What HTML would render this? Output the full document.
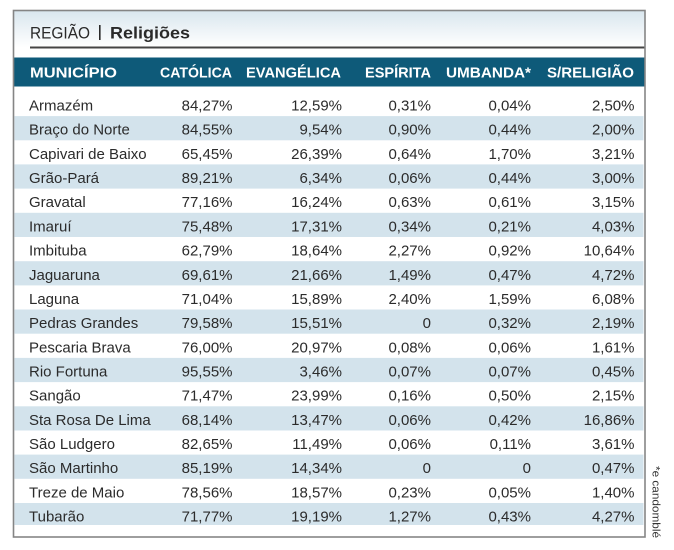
<!DOCTYPE html>
<html><head><meta charset="utf-8"><style>
html,body{margin:0;padding:0;background:#fff;}
svg{display:block;}
text{font-family:"Liberation Sans",Arial,sans-serif;}
</style></head><body>
<svg width="674" height="550" viewBox="0 0 674 550" xmlns="http://www.w3.org/2000/svg">
<defs>
<linearGradient id="tg" x1="0" y1="0" x2="0" y2="1">
<stop offset="0" stop-color="#d9e6ee"/>
<stop offset="1" stop-color="#ffffff"/>
</linearGradient>
</defs>
<rect x="0" y="0" width="674" height="550" fill="#fff"/>
<rect x="13.5" y="10.5" width="631" height="37" fill="url(#tg)"/>
<line x1="30" y1="47.5" x2="645" y2="47.5" stroke="#444" stroke-width="2"/>
<text x="30" y="38.5" font-size="17" fill="#2a2a2a" textLength="60" lengthAdjust="spacingAndGlyphs">REGIÃO</text>
<rect x="99" y="25" width="1.6" height="15" fill="#2a2a2a"/>
<text x="110" y="38.5" font-size="17" font-weight="bold" fill="#2a2a2a" textLength="80" lengthAdjust="spacingAndGlyphs">Religiões</text>
<rect x="13.5" y="57.5" width="631" height="29" fill="#0e5a79"/>
<g font-size="15" font-weight="bold" fill="#fff">
<text x="30" y="77.5" textLength="87" lengthAdjust="spacingAndGlyphs">MUNICÍPIO</text>
<text x="160" y="77.5" textLength="72" lengthAdjust="spacingAndGlyphs">CATÓLICA</text>
<text x="246" y="77.5" textLength="95" lengthAdjust="spacingAndGlyphs">EVANGÉLICA</text>
<text x="365" y="77.5" textLength="66" lengthAdjust="spacingAndGlyphs">ESPÍRITA</text>
<text x="446" y="77.5" textLength="85" lengthAdjust="spacingAndGlyphs">UMBANDA*</text>
<text x="547" y="77.5" textLength="87" lengthAdjust="spacingAndGlyphs">S/RELIGIÃO</text>
</g>
<g fill="#d3e3ec">
<rect x="14.5" y="116.1" width="629" height="24.2"/>
<rect x="14.5" y="164.4" width="629" height="24.2"/>
<rect x="14.5" y="212.8" width="629" height="24.2"/>
<rect x="14.5" y="261.2" width="629" height="24.2"/>
<rect x="14.5" y="309.5" width="629" height="24.2"/>
<rect x="14.5" y="357.9" width="629" height="24.2"/>
<rect x="14.5" y="406.3" width="629" height="24.2"/>
<rect x="14.5" y="454.6" width="629" height="24.2"/>
<rect x="14.5" y="503.0" width="629" height="22"/>
</g>
<g font-size="15" fill="#2b2b2b">
<g><text x="29" y="110.5">Armazém</text><g text-anchor="end"><text x="232.5" y="110.5">84,27%</text><text x="342" y="110.5">12,59%</text><text x="431" y="110.5">0,31%</text><text x="531" y="110.5">0,04%</text><text x="634.5" y="110.5">2,50%</text></g></g>
<g><text x="29" y="134.7">Braço do Norte</text><g text-anchor="end"><text x="232.5" y="134.7">84,55%</text><text x="342" y="134.7">9,54%</text><text x="431" y="134.7">0,90%</text><text x="531" y="134.7">0,44%</text><text x="634.5" y="134.7">2,00%</text></g></g>
<g><text x="29" y="158.9">Capivari de Baixo</text><g text-anchor="end"><text x="232.5" y="158.9">65,45%</text><text x="342" y="158.9">26,39%</text><text x="431" y="158.9">0,64%</text><text x="531" y="158.9">1,70%</text><text x="634.5" y="158.9">3,21%</text></g></g>
<g><text x="29" y="183.0">Grão-Pará</text><g text-anchor="end"><text x="232.5" y="183.0">89,21%</text><text x="342" y="183.0">6,34%</text><text x="431" y="183.0">0,06%</text><text x="531" y="183.0">0,44%</text><text x="634.5" y="183.0">3,00%</text></g></g>
<g><text x="29" y="207.2">Gravatal</text><g text-anchor="end"><text x="232.5" y="207.2">77,16%</text><text x="342" y="207.2">16,24%</text><text x="431" y="207.2">0,63%</text><text x="531" y="207.2">0,61%</text><text x="634.5" y="207.2">3,15%</text></g></g>
<g><text x="29" y="231.4">Imaruí</text><g text-anchor="end"><text x="232.5" y="231.4">75,48%</text><text x="342" y="231.4">17,31%</text><text x="431" y="231.4">0,34%</text><text x="531" y="231.4">0,21%</text><text x="634.5" y="231.4">4,03%</text></g></g>
<g><text x="29" y="255.6">Imbituba</text><g text-anchor="end"><text x="232.5" y="255.6">62,79%</text><text x="342" y="255.6">18,64%</text><text x="431" y="255.6">2,27%</text><text x="531" y="255.6">0,92%</text><text x="634.5" y="255.6">10,64%</text></g></g>
<g><text x="29" y="279.8">Jaguaruna</text><g text-anchor="end"><text x="232.5" y="279.8">69,61%</text><text x="342" y="279.8">21,66%</text><text x="431" y="279.8">1,49%</text><text x="531" y="279.8">0,47%</text><text x="634.5" y="279.8">4,72%</text></g></g>
<g><text x="29" y="304.0">Laguna</text><g text-anchor="end"><text x="232.5" y="304.0">71,04%</text><text x="342" y="304.0">15,89%</text><text x="431" y="304.0">2,40%</text><text x="531" y="304.0">1,59%</text><text x="634.5" y="304.0">6,08%</text></g></g>
<g><text x="29" y="328.1">Pedras Grandes</text><g text-anchor="end"><text x="232.5" y="328.1">79,58%</text><text x="342" y="328.1">15,51%</text><text x="431" y="328.1">0</text><text x="531" y="328.1">0,32%</text><text x="634.5" y="328.1">2,19%</text></g></g>
<g><text x="29" y="352.3">Pescaria Brava</text><g text-anchor="end"><text x="232.5" y="352.3">76,00%</text><text x="342" y="352.3">20,97%</text><text x="431" y="352.3">0,08%</text><text x="531" y="352.3">0,06%</text><text x="634.5" y="352.3">1,61%</text></g></g>
<g><text x="29" y="376.5">Rio Fortuna</text><g text-anchor="end"><text x="232.5" y="376.5">95,55%</text><text x="342" y="376.5">3,46%</text><text x="431" y="376.5">0,07%</text><text x="531" y="376.5">0,07%</text><text x="634.5" y="376.5">0,45%</text></g></g>
<g><text x="29" y="400.7">Sangão</text><g text-anchor="end"><text x="232.5" y="400.7">71,47%</text><text x="342" y="400.7">23,99%</text><text x="431" y="400.7">0,16%</text><text x="531" y="400.7">0,50%</text><text x="634.5" y="400.7">2,15%</text></g></g>
<g><text x="29" y="424.9">Sta Rosa De Lima</text><g text-anchor="end"><text x="232.5" y="424.9">68,14%</text><text x="342" y="424.9">13,47%</text><text x="431" y="424.9">0,06%</text><text x="531" y="424.9">0,42%</text><text x="634.5" y="424.9">16,86%</text></g></g>
<g><text x="29" y="449.1">São Ludgero</text><g text-anchor="end"><text x="232.5" y="449.1">82,65%</text><text x="342" y="449.1">11,49%</text><text x="431" y="449.1">0,06%</text><text x="531" y="449.1">0,11%</text><text x="634.5" y="449.1">3,61%</text></g></g>
<g><text x="29" y="473.2">São Martinho</text><g text-anchor="end"><text x="232.5" y="473.2">85,19%</text><text x="342" y="473.2">14,34%</text><text x="431" y="473.2">0</text><text x="531" y="473.2">0</text><text x="634.5" y="473.2">0,47%</text></g></g>
<g><text x="29" y="497.4">Treze de Maio</text><g text-anchor="end"><text x="232.5" y="497.4">78,56%</text><text x="342" y="497.4">18,57%</text><text x="431" y="497.4">0,23%</text><text x="531" y="497.4">0,05%</text><text x="634.5" y="497.4">1,40%</text></g></g>
<g><text x="29" y="521.6">Tubarão</text><g text-anchor="end"><text x="232.5" y="521.6">71,77%</text><text x="342" y="521.6">19,19%</text><text x="431" y="521.6">1,27%</text><text x="531" y="521.6">0,43%</text><text x="634.5" y="521.6">4,27%</text></g></g>
</g>
<rect x="13.5" y="10.5" width="631.5" height="526.5" fill="none" stroke="#858585" stroke-width="1.6"/>
<text transform="translate(652.5,466) rotate(90)" font-size="11" fill="#333" textLength="72" lengthAdjust="spacingAndGlyphs">*e candomblé</text>
</svg>
</body></html>
